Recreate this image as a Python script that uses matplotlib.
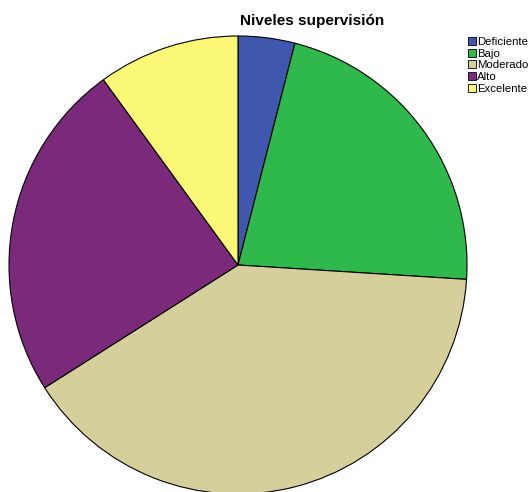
import matplotlib
matplotlib.use("Agg")
import matplotlib.pyplot as plt
from matplotlib.patches import Patch

plt.rcParams['font.family'] = ['Liberation Sans', 'DejaVu Sans']

categories = ["Deficiente", "Bajo", "Moderado", "Alto", "Excelente"]
counts = [2, 11, 20, 12, 5]
colors = ["#3f58ad", "#2fb84b", "#d5cf9b", "#7b2a7b", "#fbf777"]

fig = plt.figure(figsize=(5.31, 4.92), dpi=100)
fig.patch.set_facecolor("white")

# pie axes: square box centred on the pie
ax = fig.add_axes([9 / 531, -2 / 492, 458 / 531, 458 / 492])
ax.pie(counts, colors=colors, startangle=90, counterclock=False,
       wedgeprops=dict(edgecolor="black", linewidth=0.8))
ax.set_xlim(-1.0, 1.0)
ax.set_ylim(-1.0, 1.0)
ax.set_aspect("auto")
ax.axis("off")

fig.text(312 / 531, 1 - 21 / 492, "Niveles supervisión", ha="center", va="center",
         fontsize=11, fontweight="bold")

handles = [Patch(facecolor=c, edgecolor="black", linewidth=0.6) for c in colors]
fig.legend(handles, categories, loc="upper left", bbox_to_anchor=(468 / 531, 1 - 37 / 492),
           frameon=False, fontsize=8.2, handlelength=0.7, handleheight=0.7,
           handletextpad=0.12, labelspacing=0.15, borderaxespad=0, borderpad=0)

fig.savefig("out.png", dpi=100)
